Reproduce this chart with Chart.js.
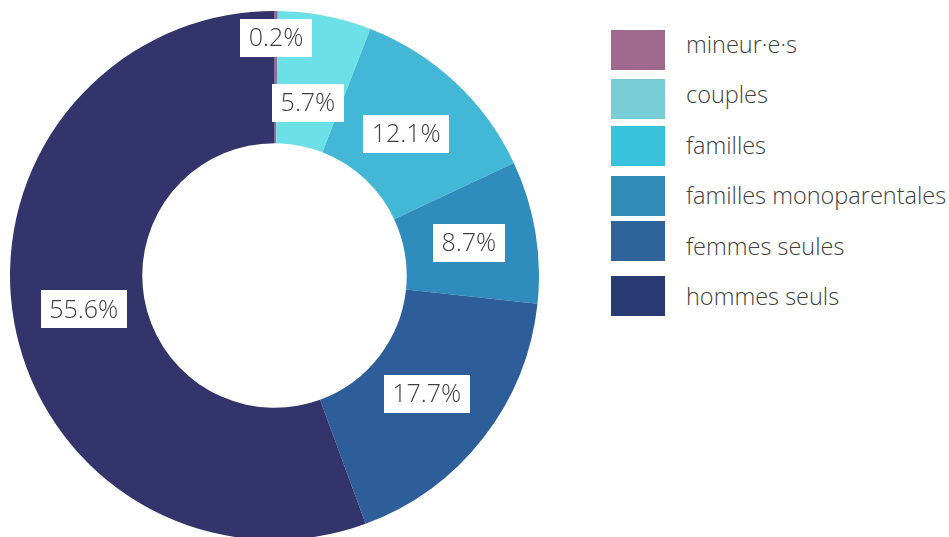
<!DOCTYPE html>
<html>
<head>
<meta charset="utf-8">
<script src="https://cdn.jsdelivr.net/npm/chart.js@4.4.0/dist/chart.umd.min.js"></script>
<style>
  html, body { margin: 0; padding: 0; background: #fff; overflow: hidden; }
  body { width: 949px; height: 537px; position: relative; font-family: 'Open Sans', sans-serif; }
  #wrap { position: absolute; left: 10px; top: 11px; width: 529px; height: 529px; }
  .sq { position: absolute; left: 611px; width: 54px; height: 40px; }
  .lbl { position: absolute; left: 686px; font-size: 23.5px; font-weight: 300; color: #404040; line-height: 1; white-space: nowrap; }
</style>
</head>
<body>
<div id="wrap"><canvas id="donut"></canvas></div>
<div id="legend"></div>
<script>
// données (pourcentages)
const categories = ["mineur·e·s", "couples", "familles", "familles monoparentales", "femmes seules", "hommes seuls"];
const parts = [0.2, 5.7, 12.1, 8.7, 17.7, 55.6];

// couleurs des secteurs et de la légende (un peu différentes dans l'original)
const sliceColors = ["#9b6a94", "#6ce0e7", "#43b8d6", "#2f8cbc", "#2e5e99", "#33346b"];
const legendColors = ["#a06a8f", "#76ced4", "#38c2dc", "#338bb8", "#2e6499", "#283a72"];

// position radiale des étiquettes (fraction du rayon extérieur)
const labelRadius = [0.898, 0.664, 0.73, 0.745, 0.73, 0.733];

// légende HTML
const legendEl = document.getElementById('legend');
const squareTops = [30, 79, 126, 176, 221, 276];
categories.forEach((cat, i) => {
  const sq = document.createElement('div');
  sq.className = 'sq';
  sq.style.top = squareTops[i] + 'px';
  sq.style.background = legendColors[i];
  legendEl.appendChild(sq);

  const t = document.createElement('div');
  t.className = 'lbl';
  t.textContent = cat;
  // ligne de base ~ 51 + i*50.5
  t.style.top = (51 + i * 50.5 - 18.5) + 'px';
  legendEl.appendChild(t);
});

// étiquettes dans des boîtes blanches
const boxLabels = {
  id: 'boxLabels',
  afterDatasetsDraw(chart) {
    const ctx = chart.ctx;
    const meta = chart.getDatasetMeta(0);
    ctx.save();
    ctx.font = '300 25px "Open Sans"';
    ctx.textAlign = 'center';
    ctx.textBaseline = 'middle';
    meta.data.forEach((arc, i) => {
      const p = arc.getProps(['x', 'y', 'startAngle', 'endAngle', 'outerRadius'], true);
      const mid = (p.startAngle + p.endAngle) / 2;
      const r = p.outerRadius * labelRadius[i];
      const cx = p.x + Math.cos(mid) * r;
      const cy = p.y + Math.sin(mid) * r;
      const txt = parts[i].toFixed(1) + '%';
      const w = ctx.measureText(txt).width + 17;
      const h = 38;
      ctx.fillStyle = '#ffffff';
      ctx.fillRect(Math.round(cx - w / 2), Math.round(cy - h / 2), Math.round(w), h);
      ctx.fillStyle = '#404040';
      ctx.fillText(txt, cx, cy + 1);
    });
    ctx.restore();
  }
};

const ctx = document.getElementById('donut').getContext('2d');
new Chart(ctx, {
  type: 'doughnut',
  data: {
    labels: categories,
    datasets: [{
      data: parts,
      backgroundColor: sliceColors,
      borderWidth: 0
    }]
  },
  options: {
    responsive: true,
    maintainAspectRatio: false,
    animation: false,
    cutout: '50%',
    layout: { padding: 0 },
    plugins: {
      legend: { display: false },
      tooltip: { enabled: false }
    }
  },
  plugins: [boxLabels]
});
</script>
</body>
</html>
